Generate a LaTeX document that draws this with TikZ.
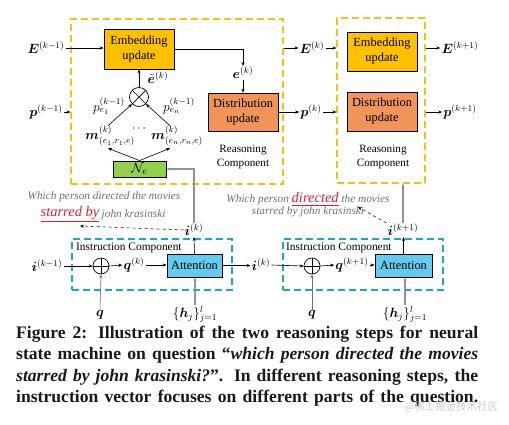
\documentclass[tikz,border=0pt]{standalone}
\usepackage{amsmath,bm}
\usepackage{fontspec}
\setmainfont{Liberation Serif}
\newfontfamily\cjk{Noto Sans CJK SC}
\usetikzlibrary{arrows.meta,calc}
\newcommand\mlab[1]{\scalebox{1.12}{$#1$}}
\definecolor{ycol}{RGB}{240,195,20}
\definecolor{ccol}{RGB}{30,165,200}
\definecolor{embc}{RGB}{255,192,0}
\definecolor{disc}{RGB}{240,148,90}
\definecolor{nec}{RGB}{146,208,80}
\definecolor{attc}{RGB}{100,202,240}
\definecolor{qgray}{RGB}{110,110,110}
\definecolor{redq}{RGB}{225,30,50}
\tikzset{
  ybox/.style={draw=ycol, line width=1.1pt, dash pattern=on 7pt off 4pt, inner sep=0pt},
  cbox/.style={draw=ccol, line width=1.1pt, dash pattern=on 7pt off 4pt, inner sep=0pt},
  blk/.style={draw=black, line width=0.8pt, align=center, inner sep=0pt, font=\fontsize{12.4}{15}\selectfont},
  lbl/.style={inner sep=1pt, font=\fontsize{12}{14}\selectfont},
  small/.style={inner sep=1pt, align=center, font=\fontsize{11.2}{14}\selectfont},
  arr/.style={-{Stealth[length=4pt,width=3.2pt]}, line width=0.6pt},
  garr/.style={-{Stealth[length=4pt,width=3.2pt]}, draw=gray!85, line width=1.2pt},
  opc/.style={circle, draw=black, line width=0.7pt, inner sep=0pt},
  qtext/.style={inner sep=0.5pt, text=qgray, align=center, font=\fontsize{11.3}{14}\selectfont\itshape},
  redt/.style={text=redq, font=\fontsize{14.5}{16}\selectfont\itshape},
}
\begin{document}
\begin{tikzpicture}[x=1pt,y=-1pt]
\useasboundingbox (0,0) rectangle (509,424);

% reasoning component boxes
\node[ybox, minimum width=212pt, minimum height=165pt] (rc1) at (177,101.5) {};
\node[ybox, minimum width=88pt, minimum height=165pt] (rc2) at (381,100.5) {};

\node[blk, fill=embc, minimum width=70pt, minimum height=40pt] (emb1) at (139,49) {Embedding\\update};
\node[blk, fill=disc, minimum width=70pt, minimum height=38pt] (dis1) at (243,112) {Distribution\\update};
\node[blk, fill=embc, minimum width=70pt, minimum height=39pt] (emb2) at (382,51.5) {Embedding\\update};
\node[blk, fill=disc, minimum width=70pt, minimum height=39pt] (dis2) at (382,111.5) {Distribution\\update};
\node[blk, fill=nec, minimum width=53pt, minimum height=16pt] (Ne) at (139.5,169) {\mlab{\mathcal{N}_e}};

\node[small] (rct1) at (243,157) {Reasoning\\Component};
\node[small] (rct2) at (383,157) {Reasoning\\Component};

\node[opc, minimum size=19pt] (ot) at (139,97) {};
\draw[line width=0.7pt] (ot.45) -- (ot.-135) (ot.135) -- (ot.-45);

% labels
\node[lbl] (Ekm1) at (46,48) {\mlab{\bm{E}^{(k-1)}}};
\node[lbl] (pkm1) at (46,112) {\mlab{\bm{p}^{(k-1)}}};
\node[lbl] (ek) at (243,73) {\mlab{\bm{e}^{(k)}}};
\node[lbl] (Ek) at (312,48) {\mlab{\bm{E}^{(k)}}};
\node[lbl] (pk) at (311,112) {\mlab{\bm{p}^{(k)}}};
\node[lbl] (Ekp1) at (460,48) {\mlab{\bm{E}^{(k+1)}}};
\node[lbl] (pkp1) at (460,112) {\mlab{\bm{p}^{(k+1)}}};
\node[lbl, inner sep=0pt] (et) at (158,77.5) {\mlab{\tilde{\bm{e}}^{(k)}}};
\node[lbl] (pe1) at (109,106) {\mlab{p_{e_1}^{(k-1)}}};
\node[lbl] (pen) at (179,106) {\mlab{p_{e_n}^{(k-1)}}};
\node[lbl] (m1) at (110,136) {\mlab{\bm{m}^{(k)}_{(e_1,r_1,e)}}};
\node[lbl] (mn) at (177,136) {\mlab{\bm{m}^{(k)}_{(e_n,r_n,e)}}};
\node[lbl] (dots) at (140,129) {$\cdots$};

% reasoning connectors
\draw[arr] (Ekm1.east) -- (Ekm1.east -| emb1.west);
\draw[arr] (pkm1.east) -- (pkm1.east -| rc1.west);
\draw[arr] (emb1.east) -| (ek.north);
\draw[arr] (ek.south) -- (dis1.north);
\draw[arr] (ot.north) -- (emb1.south);
\draw[arr] ($(m1.north)+(-2,1)$) -- (ot.-135);
\draw[arr] ($(mn.north)+(-7,1)$) -- (ot.-45);
\draw[arr] (Ne.north) -- ($(m1.south)+(-2,1)$);
\draw[arr] (Ne.north) -- ($(mn.south)+(-7,1)$);
\draw[arr] (Ek.west -| rc1.east) -- (Ek.west);
\draw[arr] (Ek.east) -- (Ek.east -| rc2.west);
\draw[arr] (dis1.east) -- (pk.west);
\draw[arr] (pk.east) -- (pk.east -| rc2.west);
\draw[arr] (Ekp1.west -| rc2.east) -- (Ekp1.west);
\draw[arr] (pkp1.west -| rc2.east) -- (pkp1.west);

% question texts
\node[qtext] (qa1) at (104,197) {Which person directed the movies};
\node[redt, inner sep=0.5pt] (sb) at (70,214) {\underline{starred by}};
\node[qtext, anchor=west] (jk) at ($(sb.east)+(1,0.5)$) {john krasinski};
\node[qtext] (qa2) at (308,205) {Which person {\color{redq}\fontsize{14.5}{16}\selectfont\underline{directed}} the movies\\[-2pt]starred by john krasinski};
\coordinate (sbpt) at (80,226);
\coordinate (kpt) at (358,207);

% instruction components
\node[cbox, minimum width=160pt, minimum height=51pt] (ib1) at (152,264.5) {};
\node[cbox, minimum width=160pt, minimum height=51pt] (ib2) at (363,264.5) {};
\node[small, anchor=west, font=\fontsize{11.4}{13}\selectfont] (ic1) at (75,248) {Instruction Component};
\node[small, anchor=west, font=\fontsize{11.4}{13}\selectfont] (ic2) at (285,248) {Instruction Component};

\node[opc, minimum size=16pt] (op1) at (101,266) {};
\draw[line width=0.7pt] (op1.north) -- (op1.south) (op1.west) -- (op1.east);
\node[opc, minimum size=16pt] (op2) at (312,266) {};
\draw[line width=0.7pt] (op2.north) -- (op2.south) (op2.west) -- (op2.east);

\node[blk, fill=attc, minimum width=55pt, minimum height=23pt] (att1) at (194.5,265.5) {Attention};
\node[blk, fill=attc, minimum width=57pt, minimum height=23pt] (att2) at (403.5,265.5) {Attention};

\node[lbl] (ikm1) at (47,266) {\mlab{\bm{i}^{(k-1)}}};
\node[lbl] (qk) at (134,265) {\mlab{\bm{q}^{(k)}}};
\node[lbl] (ik) at (194,230) {\mlab{\bm{i}^{(k)}}};
\node[lbl] (ik2) at (261,265) {\mlab{\bm{i}^{(k)}}};
\node[lbl] (qkp1) at (352,265) {\mlab{\bm{q}^{(k+1)}}};
\node[lbl] (ikp1) at (403,230) {\mlab{\bm{i}^{(k+1)}}};
\node[lbl] (q1) at (100,315) {\mlab{\bm{q}}};
\node[lbl] (q2) at (312,315) {\mlab{\bm{q}}};
\node[lbl] (h1) at (195,314) {\mlab{\{\bm{h}_j\}_{j=1}^{l}}};
\node[lbl] (h2) at (405,314) {\mlab{\{\bm{h}_j\}_{j=1}^{l}}};

% instruction connectors
\draw[arr] (ikm1.east) -- (op1.west);
\draw[arr] (op1.east) -- (qk.west);
\draw[arr] (qk.east) -- (qk.east -| att1.west);
\draw[arr] (att1.east) -- (att1.east -| ik2.west);
\draw[arr] (ik2.east) -- (op2.west);
\draw[arr] (op2.east) -- (qkp1.west);
\draw[arr] (qkp1.east) -- (qkp1.east -| att2.west);
\draw[arr] (att1.north) -- (ik.south);
\draw[arr] (att2.north) -- (att2.north |- ikp1.south);
\draw[arr, draw=qgray] (q1.north) -- (op1.south);
\draw[arr, draw=qgray] (q2.north) -- (op2.south);
\draw[garr] (h1.north) -- (h1.north |- att1.south);
\draw[garr] (h2.north) -- (h2.north |- att2.south);
\draw[garr] (ik.north) |- (Ne.east);
\draw[garr] (ikp1.north) -- (ikp1.north |- rc2.south);
\draw[arr, dashed, line width=0.5pt] (ik.west) -- (sbpt);
\draw[arr, dashed, line width=0.5pt] (ikp1.north west) -- (kpt);

% caption
\node[anchor=north west, inner sep=0pt, align=left, text=black!90,
      font=\fontsize{17.6}{21.3}\selectfont\bfseries] (cap) at (16,326) {%
\makebox[462pt][s]{Figure 2: Illustration of the two reasoning steps for neural}\\
\makebox[462pt][s]{state machine on question “\textit{which person directed the movies}}\\
\makebox[462pt][s]{\textit{starred by john krasinski?}”. In different reasoning steps, the}\\
\makebox[462pt][s]{instruction vector focuses on different parts of the question.}};
\node[anchor=west, inner sep=0pt, text=gray!40, font=\cjk\fontsize{10.5}{12}\selectfont] (wm) at (404,407) {@稀土掘金技术社区};
\end{tikzpicture}
\end{document}
